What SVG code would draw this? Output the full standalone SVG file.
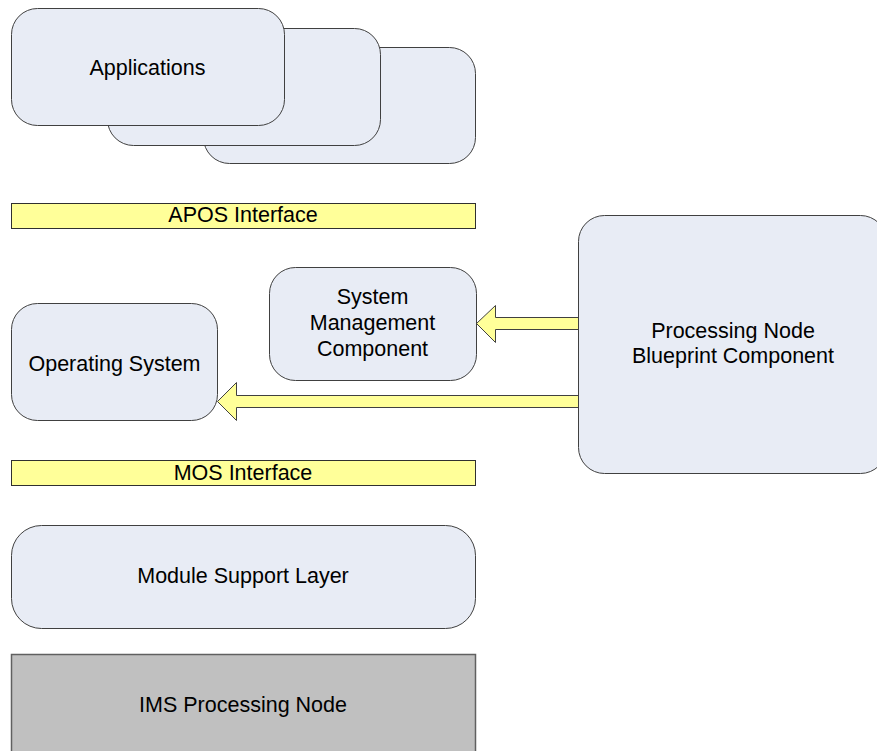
<svg xmlns="http://www.w3.org/2000/svg" width="877" height="751" viewBox="0 0 877 751">
<style>
.box{fill:#E8ECF5;stroke:#404040;stroke-width:1}
.bar{fill:#FFFF99;stroke:#303030;stroke-width:1}
.arrow{fill:#FFFF99;stroke:#404040;stroke-width:1}
.gray{fill:#C0C0C0;stroke:#606060;stroke-width:1.5}
text{font-family:"Liberation Sans",Arial,sans-serif;font-size:21.5px;fill:#000;text-anchor:middle}
</style>
<rect width="877" height="751" fill="#fff"/>
<g id="applications">
<rect class="box" x="203.5" y="47.5" width="272" height="116" rx="26"/>
<rect class="box" x="107.5" y="28.5" width="273" height="117" rx="26"/>
<rect class="box" x="11.5" y="8.5" width="273" height="117" rx="26"/>
<text x="147.5" y="74.5">Applications</text>
</g>
<g id="apos">
<rect class="bar" x="11.5" y="203.5" width="464" height="25"/>
<text x="243" y="222">APOS Interface</text>
</g>
<g id="connectors">
<polygon class="arrow" points="580,317.5 495.5,317.5 495.5,305.5 476.5,323.5 495.5,342.5 495.5,329.5 580,329.5"/>
<polygon class="arrow" points="580,395.5 236.5,395.5 236.5,382.5 217.5,401.5 236.5,420.5 236.5,407.5 580,407.5"/>
</g>
<g id="smc">
<rect class="box" x="269.5" y="267.5" width="207" height="113" rx="26"/>
<text x="372.5" y="304">System</text>
<text x="372.5" y="330">Management</text>
<text x="372.5" y="356">Component</text>
</g>
<g id="os">
<rect class="box" x="11.5" y="303.5" width="206" height="117" rx="26"/>
<text x="114.5" y="370.5">Operating System</text>
</g>
<g id="pnb">
<rect class="box" x="578.5" y="215.5" width="308" height="258" rx="26"/>
<text x="733" y="338">Processing Node</text>
<text x="733" y="363">Blueprint Component</text>
</g>
<g id="mos">
<rect class="bar" x="11.5" y="460.5" width="464" height="25"/>
<text x="243" y="480">MOS Interface</text>
</g>
<g id="msl">
<rect class="box" x="11.5" y="525.5" width="464" height="103" rx="30"/>
<text x="243" y="583">Module Support Layer</text>
</g>
<g id="ims">
<rect class="gray" x="11.5" y="654.5" width="464" height="110"/>
<text x="243" y="711.5">IMS Processing Node</text>
</g>
</svg>
